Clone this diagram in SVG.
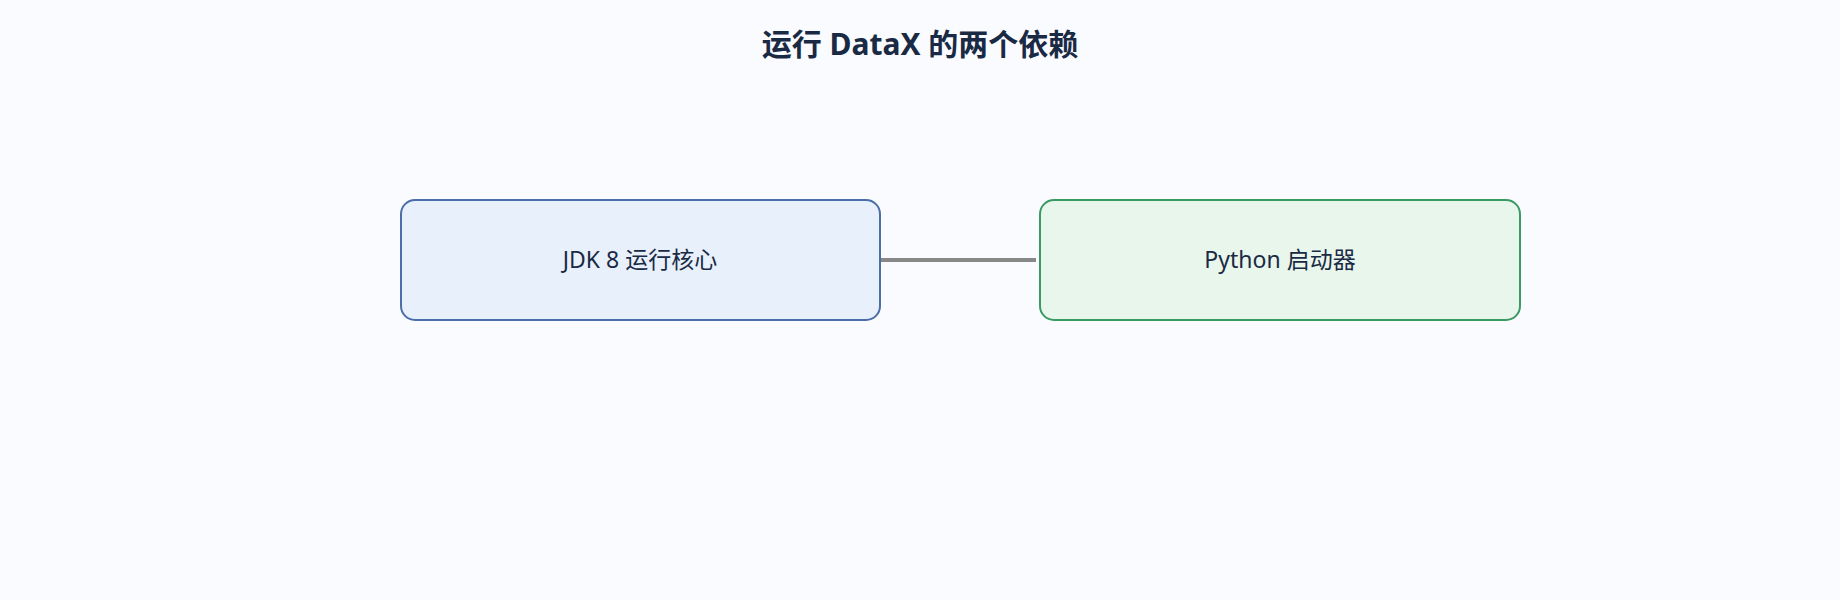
<svg xmlns="http://www.w3.org/2000/svg" width="1840" height="600" viewBox="0 0 1840 600">
<style>
text{font-family:"Noto Sans","Noto Sans CJK SC",sans-serif;fill:#1a2a44}
.t{font-size:30px;font-weight:bold}
.l{font-size:23px}
</style>
<rect width="1840" height="600" fill="#f9fbff"/>
<text class="t" x="920" y="55" text-anchor="middle">运行 DataX 的两个依赖</text>
<g id="connectors"><line x1="880" y1="260" x2="1036" y2="260" stroke="#888" stroke-width="4"/></g>
<g id="jdk"><rect x="401" y="200" width="479" height="120" rx="14" fill="#e8f0fc" stroke="#4a6fa8" stroke-width="2"/><text class="l" x="640" y="268" text-anchor="middle">JDK 8 运行核心</text></g>
<g id="python"><rect x="1040" y="200" width="480" height="120" rx="14" fill="#e8f6ec" stroke="#3a9a63" stroke-width="2"/><text class="l" x="1280" y="268" text-anchor="middle">Python 启动器</text></g>
</svg>
